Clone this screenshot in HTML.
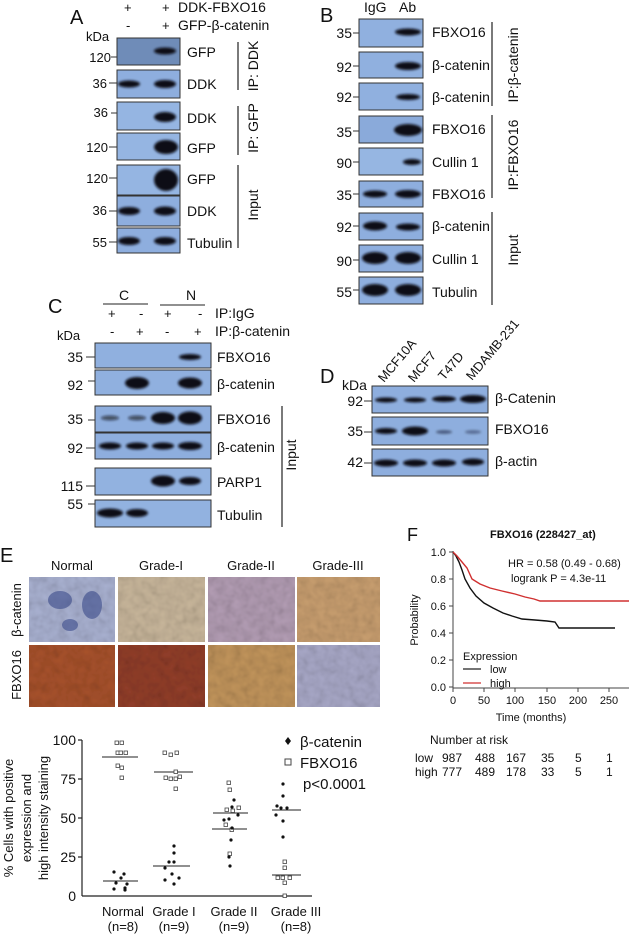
<!DOCTYPE html>
<html><head><meta charset="utf-8"><style>
html,body{margin:0;padding:0;background:#fff}
svg{display:block}
text{font-family:"Liberation Sans",Arial,sans-serif;fill:#111}
</style></head><body>
<svg width="629" height="935" viewBox="0 0 629 935" xmlns="http://www.w3.org/2000/svg">
<defs>
<filter id="b" x="-50%" y="-100%" width="200%" height="300%"><feGaussianBlur stdDeviation="1.3"/></filter>
<filter id="t" x="0" y="0" width="100%" height="100%"><feTurbulence type="fractalNoise" baseFrequency="0.12" numOctaves="2" seed="3"/><feColorMatrix type="saturate" values="0"/><feComponentTransfer><feFuncA type="linear" slope="0.55"/></feComponentTransfer><feComposite in2="SourceGraphic" operator="in"/><feBlend in="SourceGraphic" mode="multiply"/></filter>
</defs>
<g font-size="13">
<!-- PANEL A -->
<text x="70" y="24" font-size="20">A</text>
<text x="124" y="12">+</text><text x="162" y="12">+</text><text x="178" y="12" font-size="14">DDK-FBXO16</text>
<text x="126" y="30">-</text><text x="162" y="30">+</text><text x="178" y="30" font-size="14">GFP-β-catenin</text>
<text x="86" y="41">kDa</text>
<g stroke="#333" stroke-width="1">
<rect x="117" y="38" width="63" height="27" fill="#6f8cb8"/>
<rect x="117" y="70" width="63" height="28" fill="#8eaede"/>
<rect x="117" y="102" width="63" height="28" fill="#95b5e2"/>
<rect x="117" y="133" width="63" height="27" fill="#95b5e2"/>
<rect x="117" y="165" width="63" height="30" fill="#95b5e2"/>
<rect x="117" y="196" width="63" height="30" fill="#8eaede"/>
<rect x="117" y="228" width="63" height="25" fill="#8eaede"/>
</g>
<g fill="#0c0c18" filter="url(#b)">
<ellipse cx="165" cy="51" rx="11" ry="3.5"/>
<ellipse cx="129" cy="84" rx="11" ry="3.5"/><ellipse cx="165" cy="84" rx="11" ry="4"/>
<ellipse cx="165" cy="117" rx="11" ry="5"/>
<ellipse cx="166" cy="147" rx="12" ry="7"/>
<ellipse cx="166" cy="180" rx="12" ry="11"/>
<ellipse cx="129" cy="211" rx="11" ry="4"/><ellipse cx="165" cy="211" rx="11" ry="4.5"/>
<ellipse cx="129" cy="241" rx="11" ry="4"/><ellipse cx="165" cy="241" rx="11" ry="4"/>
</g>
<g text-anchor="end"><text x="111" y="62">120</text><text x="107" y="88">36</text><text x="108" y="117">36</text><text x="108" y="152">120</text><text x="108" y="183">120</text><text x="107" y="215">36</text><text x="107" y="247">55</text></g>
<g stroke="#333"><line x1="111" y1="57" x2="117" y2="57"/><line x1="109" y1="83" x2="117" y2="83"/><line x1="111" y1="113" x2="117" y2="113"/><line x1="109" y1="147" x2="117" y2="147"/><line x1="109" y1="178" x2="117" y2="178"/><line x1="109" y1="211" x2="117" y2="211"/><line x1="109" y1="242" x2="117" y2="242"/></g>
<g font-size="14"><text x="187" y="57">GFP</text><text x="187" y="89">DDK</text><text x="187" y="123">DDK</text><text x="187" y="153">GFP</text><text x="187" y="184">GFP</text><text x="187" y="216">DDK</text><text x="187" y="248">Tubulin</text></g>
<g stroke="#222" stroke-width="1.2"><line x1="238" y1="42" x2="238" y2="90"/><line x1="238" y1="106" x2="238" y2="155"/><line x1="238" y1="165" x2="238" y2="248"/></g>
<g font-size="14"><text transform="translate(258,66) rotate(-90)" text-anchor="middle">IP: DDK</text><text transform="translate(258,128) rotate(-90)" text-anchor="middle">IP: GFP</text><text transform="translate(258,205) rotate(-90)" text-anchor="middle">Input</text></g>

<!-- PANEL B -->
<text x="320" y="22" font-size="20">B</text>
<text x="364" y="12" font-size="14">IgG</text><text x="399" y="12" font-size="14">Ab</text>
<g stroke="#333">
<rect x="359" y="19" width="64" height="28" fill="#90b0df"/>
<rect x="359" y="52" width="64" height="26" fill="#90b0df"/>
<rect x="359" y="83" width="64" height="27" fill="#90b0df"/>
<rect x="359" y="116" width="64" height="27" fill="#8aaada"/>
<rect x="359" y="148" width="64" height="27" fill="#96b6e2"/>
<rect x="359" y="181" width="64" height="26" fill="#8eaede"/>
<rect x="359" y="213" width="64" height="27" fill="#8eaede"/>
<rect x="359" y="245" width="64" height="27" fill="#8eaede"/>
<rect x="359" y="277" width="64" height="27" fill="#8eaede"/>
</g>
<g fill="#0c0c18" filter="url(#b)">
<ellipse cx="408" cy="32" rx="13" ry="3.5"/>
<ellipse cx="408" cy="66" rx="13" ry="4"/>
<ellipse cx="408" cy="97" rx="12" ry="3"/>
<ellipse cx="408" cy="130" rx="14" ry="6"/>
<ellipse cx="412" cy="162" rx="9" ry="3"/>
<ellipse cx="375" cy="194" rx="12" ry="3.5"/><ellipse cx="408" cy="194" rx="13" ry="4"/>
<ellipse cx="375" cy="226" rx="12" ry="4.5"/><ellipse cx="408" cy="227" rx="12" ry="3.5"/>
<ellipse cx="375" cy="258" rx="13" ry="6"/><ellipse cx="408" cy="258" rx="13" ry="6"/>
<ellipse cx="375" cy="290" rx="13" ry="6"/><ellipse cx="408" cy="290" rx="13" ry="6"/>
</g>
<g text-anchor="end" font-size="14"><text x="352" y="38">35</text><text x="352" y="72">92</text><text x="352" y="102">92</text><text x="352" y="137">35</text><text x="352" y="168">90</text><text x="352" y="200">35</text><text x="352" y="232">92</text><text x="352" y="266">90</text><text x="352" y="297">55</text></g>
<g stroke="#333"><line x1="353" y1="33" x2="359" y2="33"/><line x1="353" y1="66" x2="359" y2="66"/><line x1="353" y1="97" x2="359" y2="97"/><line x1="353" y1="131" x2="359" y2="131"/><line x1="353" y1="162" x2="359" y2="162"/><line x1="353" y1="194" x2="359" y2="194"/><line x1="353" y1="226" x2="359" y2="226"/><line x1="353" y1="260" x2="359" y2="260"/><line x1="353" y1="290" x2="359" y2="290"/></g>
<g font-size="14"><text x="432" y="37">FBXO16</text><text x="432" y="70">β-catenin</text><text x="432" y="102">β-catenin</text><text x="432" y="134">FBXO16</text><text x="432" y="167">Cullin 1</text><text x="432" y="199">FBXO16</text><text x="432" y="231">β-catenin</text><text x="432" y="264">Cullin 1</text><text x="432" y="297">Tubulin</text></g>
<g stroke="#222" stroke-width="1.2"><line x1="492" y1="22" x2="492" y2="106"/><line x1="492" y1="115" x2="492" y2="198"/><line x1="492" y1="212" x2="492" y2="305"/></g>
<g font-size="14"><text transform="translate(518,65) rotate(-90)" text-anchor="middle">IP:β-catenin</text><text transform="translate(518,155) rotate(-90)" text-anchor="middle">IP:FBXO16</text><text transform="translate(518,250) rotate(-90)" text-anchor="middle">Input</text></g>

<!-- PANEL C -->
<text x="48" y="313" font-size="20">C</text>
<text x="119" y="300" font-size="14">C</text><text x="186" y="300" font-size="14">N</text>
<g stroke="#222"><line x1="103" y1="304" x2="148" y2="304"/><line x1="160" y1="305" x2="205" y2="305"/></g>
<text x="108" y="318">+</text><text x="139" y="318">-</text><text x="164" y="318">+</text><text x="198" y="318">-</text><text x="215" y="318" font-size="14">IP:IgG</text>
<text x="57" y="340">kDa</text>
<text x="110" y="336">-</text><text x="136" y="336">+</text><text x="165" y="336">-</text><text x="194" y="336">+</text><text x="215" y="336" font-size="14">IP:β-catenin</text>
<g stroke="#333">
<rect x="95" y="343" width="116" height="25" fill="#90b0df"/>
<rect x="95" y="370" width="116" height="25" fill="#90b0df"/>
<rect x="95" y="406" width="116" height="26" fill="#8eaede"/>
<rect x="95" y="433" width="116" height="26" fill="#8eaede"/>
<rect x="95" y="468" width="116" height="27" fill="#92b2e0"/>
<rect x="95" y="500" width="116" height="27" fill="#92b2e0"/>
</g>
<g fill="#0c0c18" filter="url(#b)">
<ellipse cx="190" cy="357" rx="11" ry="3"/>
<ellipse cx="137" cy="383" rx="12" ry="6"/><ellipse cx="190" cy="383" rx="12" ry="5.5"/>
<ellipse cx="110" cy="418" rx="9" ry="2.5" opacity=".6"/><ellipse cx="137" cy="418" rx="9" ry="2.5" opacity=".6"/><ellipse cx="163" cy="418" rx="12" ry="6"/><ellipse cx="190" cy="418" rx="12" ry="6.5"/>
<ellipse cx="110" cy="446" rx="11" ry="3.5"/><ellipse cx="137" cy="446" rx="11" ry="3.5"/><ellipse cx="163" cy="446" rx="11" ry="3.5"/><ellipse cx="190" cy="446" rx="12" ry="4"/>
<ellipse cx="163" cy="481" rx="12" ry="5.5"/><ellipse cx="190" cy="481" rx="11" ry="4"/>
<ellipse cx="110" cy="513" rx="13" ry="4.5"/><ellipse cx="137" cy="513" rx="11" ry="4"/>
</g>
<g text-anchor="end" font-size="14"><text x="83" y="362">35</text><text x="83" y="390">92</text><text x="83" y="424">35</text><text x="83" y="453">92</text><text x="83" y="491">115</text><text x="83" y="509">55</text></g>
<g stroke="#333"><line x1="86" y1="357" x2="95" y2="357"/><line x1="88" y1="381" x2="95" y2="381"/><line x1="88" y1="420" x2="95" y2="420"/><line x1="86" y1="448" x2="95" y2="448"/><line x1="86" y1="486" x2="95" y2="486"/><line x1="88" y1="504" x2="95" y2="504"/></g>
<g font-size="14"><text x="217" y="362">FBXO16</text><text x="217" y="389">β-catenin</text><text x="217" y="424">FBXO16</text><text x="217" y="452">β-catenin</text><text x="217" y="487">PARP1</text><text x="217" y="520">Tubulin</text></g>
<line x1="282" y1="406" x2="282" y2="527" stroke="#222" stroke-width="1.2"/>
<text transform="translate(296,455) rotate(-90)" text-anchor="middle" font-size="14">Input</text>

<!-- PANEL D -->
<text x="320" y="383" font-size="20">D</text>
<text x="342" y="390" font-size="14">kDa</text>
<g font-size="13"><text transform="translate(384,383) rotate(-50)">MCF10A</text><text transform="translate(414,383) rotate(-50)">MCF7</text><text transform="translate(444,381) rotate(-50)">T47D</text><text transform="translate(472,381) rotate(-50)">MDAMB-231</text></g>
<g stroke="#333">
<rect x="372" y="386" width="116" height="27" fill="#8eaede"/>
<rect x="372" y="417" width="116" height="28" fill="#8eaede"/>
<rect x="372" y="449" width="116" height="27" fill="#8eaede"/>
</g>
<g fill="#0c0c18" filter="url(#b)">
<ellipse cx="386" cy="400" rx="11" ry="2.5"/><ellipse cx="415" cy="400" rx="11" ry="2.5"/><ellipse cx="444" cy="399" rx="12" ry="3"/><ellipse cx="473" cy="399" rx="13" ry="4"/>
<ellipse cx="386" cy="431" rx="11" ry="3"/><ellipse cx="415" cy="431" rx="13" ry="4.5"/><ellipse cx="444" cy="432" rx="8" ry="1.8" opacity=".5"/><ellipse cx="473" cy="432" rx="8" ry="1.8" opacity=".4"/>
<ellipse cx="386" cy="463" rx="12" ry="3.5"/><ellipse cx="415" cy="463" rx="12" ry="3.5"/><ellipse cx="444" cy="463" rx="12" ry="3.5"/><ellipse cx="473" cy="462" rx="11" ry="3.5"/>
</g>
<g text-anchor="end" font-size="14"><text x="363" y="406">92</text><text x="363" y="436">35</text><text x="363" y="467">42</text></g>
<g stroke="#333"><line x1="364" y1="401" x2="372" y2="401"/><line x1="364" y1="432" x2="372" y2="432"/><line x1="364" y1="463" x2="372" y2="463"/></g>
<g font-size="14"><text x="495" y="403">β-Catenin</text><text x="495" y="434">FBXO16</text><text x="495" y="466">β-actin</text></g>

<!-- PANEL E -->
<text x="0" y="562" font-size="20">E</text>
<g font-size="13" text-anchor="middle"><text x="72" y="570">Normal</text><text x="161" y="570">Grade-I</text><text x="251" y="570">Grade-II</text><text x="338" y="570">Grade-III</text></g>
<g font-size="13" text-anchor="middle"><text transform="translate(21,610) rotate(-90)">β-catenin</text><text transform="translate(21,675) rotate(-90)">FBXO16</text></g>
<g filter="url(#t)">
<rect x="29" y="577" width="86" height="65" fill="#aab2d2"/>
<rect x="118" y="577" width="87" height="65" fill="#c9b79c"/>
<rect x="208" y="577" width="87" height="65" fill="#b39db4"/>
<rect x="297" y="577" width="83" height="65" fill="#c99f70"/>
<rect x="29" y="645" width="86" height="62" fill="#a8522c"/>
<rect x="118" y="645" width="87" height="62" fill="#923e2a"/>
<rect x="208" y="645" width="87" height="62" fill="#c2955c"/>
<rect x="297" y="645" width="83" height="62" fill="#a9a9c8"/>
</g>
<g fill="#3a4a8a" opacity=".6"><ellipse cx="60" cy="600" rx="12" ry="9"/><ellipse cx="92" cy="605" rx="10" ry="14"/><ellipse cx="70" cy="625" rx="8" ry="6"/></g>

<!-- scatter -->
<g stroke="#222" stroke-width="1.2"><line x1="82" y1="740" x2="82" y2="896"/><line x1="82" y1="896" x2="312" y2="896"/>
<line x1="78" y1="740" x2="82" y2="740"/><line x1="78" y1="779" x2="82" y2="779"/><line x1="78" y1="818" x2="82" y2="818"/><line x1="78" y1="857" x2="82" y2="857"/></g>
<g text-anchor="end" font-size="14"><text x="76" y="745">100</text><text x="76" y="784">75</text><text x="76" y="823">50</text><text x="76" y="862">25</text><text x="76" y="901">0</text></g>
<g font-size="13" text-anchor="middle"><text transform="translate(13,818) rotate(-90)">% Cells with positive</text><text transform="translate(31,818) rotate(-90)">expression and</text><text transform="translate(48,818) rotate(-90)">high intensity staining</text></g>
<g font-size="13" text-anchor="middle"><text x="123" y="916">Normal</text><text x="123" y="931">(n=8)</text><text x="174" y="916">Grade I</text><text x="174" y="931">(n=9)</text><text x="234" y="916">Grade II</text><text x="234" y="931">(n=9)</text><text x="296" y="916">Grade III</text><text x="296" y="931">(n=8)</text></g>
<g stroke="#222"><line x1="102" y1="757" x2="138" y2="757"/><line x1="103" y1="881" x2="138" y2="881"/><line x1="154" y1="772" x2="193" y2="772"/><line x1="153" y1="866" x2="190" y2="866"/><line x1="213" y1="813" x2="248" y2="813"/><line x1="212" y1="829" x2="247" y2="829"/><line x1="272" y1="810" x2="301" y2="810"/><line x1="272" y1="875" x2="301" y2="875"/></g>
<g fill="#fff" stroke="#444" stroke-width=".8">
<rect x="115" y="741" width="3.5" height="3.5"/><rect x="120" y="741" width="3.5" height="3.5"/><rect x="116" y="751" width="3.5" height="3.5"/><rect x="124" y="751" width="3.5" height="3.5"/><rect x="119" y="751" width="3.5" height="3.5"/><rect x="116" y="764" width="3.5" height="3.5"/><rect x="120" y="766" width="3.5" height="3.5"/><rect x="120" y="776" width="3.5" height="3.5"/>
<rect x="163" y="751" width="3.5" height="3.5"/><rect x="169" y="753" width="3.5" height="3.5"/><rect x="175" y="751" width="3.5" height="3.5"/><rect x="174" y="770" width="3.5" height="3.5"/><rect x="164" y="776" width="3.5" height="3.5"/><rect x="169" y="777" width="3.5" height="3.5"/><rect x="174" y="777" width="3.5" height="3.5"/><rect x="178" y="775" width="3.5" height="3.5"/><rect x="174" y="787" width="3.5" height="3.5"/>
<rect x="227" y="781" width="3.5" height="3.5"/><rect x="228" y="788" width="3.5" height="3.5"/><rect x="225" y="808" width="3.5" height="3.5"/><rect x="231" y="809" width="3.5" height="3.5"/><rect x="237" y="806" width="3.5" height="3.5"/><rect x="224" y="823" width="3.5" height="3.5"/><rect x="230" y="828" width="3.5" height="3.5"/><rect x="228" y="852" width="3.5" height="3.5"/>
<rect x="283" y="860" width="3.5" height="3.5"/><rect x="283" y="866" width="3.5" height="3.5"/><rect x="276" y="876" width="3.5" height="3.5"/><rect x="281" y="876" width="3.5" height="3.5"/><rect x="288" y="876" width="3.5" height="3.5"/><rect x="283" y="881" width="3.5" height="3.5"/><rect x="283" y="894" width="3.5" height="3.5"/>
</g>
<g fill="#111">
<circle cx="114" cy="872" r="1.6"/><circle cx="124" cy="874" r="1.6"/><circle cx="121" cy="878" r="1.6"/><circle cx="116" cy="883" r="1.6"/><circle cx="127" cy="884" r="1.6"/><circle cx="125" cy="888" r="1.6"/><circle cx="114" cy="889" r="1.6"/><circle cx="125" cy="890" r="1.6"/>
<circle cx="174" cy="846" r="1.6"/><circle cx="174" cy="853" r="1.6"/><circle cx="169" cy="862" r="1.6"/><circle cx="174" cy="862" r="1.6"/><circle cx="165" cy="868" r="1.6"/><circle cx="172" cy="874" r="1.6"/><circle cx="165" cy="880" r="1.6"/><circle cx="179" cy="878" r="1.6"/><circle cx="174" cy="884" r="1.6"/>
<circle cx="234" cy="800" r="1.6"/><circle cx="232" cy="807" r="1.6"/><circle cx="238" cy="815" r="1.6"/><circle cx="229" cy="819" r="1.6"/><circle cx="224" cy="820" r="1.6"/><circle cx="232" cy="828" r="1.6"/><circle cx="231" cy="840" r="1.6"/><circle cx="229" cy="857" r="1.6"/><circle cx="230" cy="866" r="1.6"/>
<circle cx="283" cy="784" r="1.6"/><circle cx="283" cy="796" r="1.6"/><circle cx="277" cy="806" r="1.6"/><circle cx="281" cy="808" r="1.6"/><circle cx="287" cy="808" r="1.6"/><circle cx="276" cy="815" r="1.6"/><circle cx="283" cy="821" r="1.6"/><circle cx="283" cy="837" r="1.6"/>
</g>
<path d="M288 737 L291 741 L288 745 L285 741 Z" fill="#111"/>
<rect x="285" y="759" width="6" height="6" fill="#fff" stroke="#444"/>
<g font-size="15"><text x="300" y="747">β-catenin</text><text x="300" y="768">FBXO16</text><text x="303" y="789">p&lt;0.0001</text></g>

<!-- PANEL F -->
<text x="407" y="541" font-size="18">F</text>
<text x="490" y="538" font-size="11" font-weight="bold">FBXO16 (228427_at)</text>
<g stroke="#444"><line x1="453" y1="551" x2="453" y2="688"/><line x1="453" y1="688" x2="629" y2="688"/>
<line x1="449" y1="552" x2="453" y2="552"/><line x1="449" y1="579" x2="453" y2="579"/><line x1="449" y1="606" x2="453" y2="606"/><line x1="449" y1="633" x2="453" y2="633"/><line x1="449" y1="660" x2="453" y2="660"/><line x1="449" y1="687" x2="453" y2="687"/>
<line x1="453" y1="688" x2="453" y2="692"/><line x1="484" y1="688" x2="484" y2="692"/><line x1="515" y1="688" x2="515" y2="692"/><line x1="547" y1="688" x2="547" y2="692"/><line x1="578" y1="688" x2="578" y2="692"/><line x1="609" y1="688" x2="609" y2="692"/></g>
<g text-anchor="end" font-size="11"><text x="446" y="556">1.0</text><text x="446" y="583">0.8</text><text x="446" y="610">0.6</text><text x="446" y="637">0.4</text><text x="446" y="664">0.2</text><text x="446" y="691">0.0</text></g>
<g text-anchor="middle" font-size="11"><text x="453" y="704">0</text><text x="484" y="704">50</text><text x="515" y="704">100</text><text x="547" y="704">150</text><text x="578" y="704">200</text><text x="609" y="704">250</text><text x="531" y="721">Time (months)</text></g>
<text transform="translate(418,620) rotate(-90)" text-anchor="middle" font-size="11">Probability</text>
<text x="508" y="567" font-size="11">HR = 0.58 (0.49 - 0.68)</text>
<text x="511" y="582" font-size="11">logrank P = 4.3e-11</text>
<text x="463" y="660" font-size="11">Expression</text>
<line x1="463" y1="669" x2="481" y2="669" stroke="#222" stroke-width="1.3"/><text x="490" y="673" font-size="11">low</text>
<line x1="463" y1="683" x2="481" y2="683" stroke="#d03030" stroke-width="1.3"/><text x="490" y="687" font-size="11">high</text>
<polyline fill="none" stroke="#111" stroke-width="1.4" points="453,552 456,556 459,562 462,570 465,579 470,588 476,596 484,603 493,608 503,613 512,616 522,619 535,620 547,621 555,622 559,628 615,628"/>
<polyline fill="none" stroke="#d03030" stroke-width="1.4" points="453,552 457,556 462,562 467,568 472,579 480,584 490,588 502,591 515,594 525,597 534,599 540,601 629,601"/>
<text x="430" y="744" font-size="12">Number at risk</text>
<g font-size="12"><text x="415" y="762">low</text><text x="442" y="762">987</text><text x="475" y="762">488</text><text x="506" y="762">167</text><text x="541" y="762">35</text><text x="575" y="762">5</text><text x="606" y="762">1</text></g>
<g font-size="12"><text x="415" y="776" fill="#c83030">high</text><text x="442" y="776" fill="#c83030">777</text><text x="475" y="776" fill="#c83030">489</text><text x="506" y="776" fill="#c83030">178</text><text x="541" y="776" fill="#c83030">33</text><text x="575" y="776" fill="#c83030">5</text><text x="606" y="776" fill="#c83030">1</text></g>
</g>
</svg>
</body></html>
